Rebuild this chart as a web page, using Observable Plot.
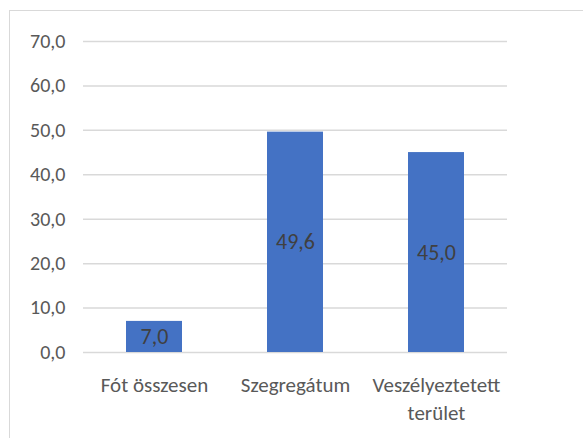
<!DOCTYPE html>
<html><head><meta charset="utf-8">
<script src="https://cdn.jsdelivr.net/npm/d3@7"></script>
<script src="https://cdn.jsdelivr.net/npm/@observablehq/plot@0.6"></script>
<style>
html,body{margin:0;padding:0;background:#fff;overflow:hidden;width:583px;height:438px;}
#wrap{position:relative;width:583px;height:438px;}
#border{position:absolute;left:9px;top:10px;width:620px;height:500px;border:1.5px solid #d9d9d9;box-sizing:border-box;}
#chart{position:absolute;left:0;top:0;}
</style></head>
<body><div id="wrap"><div id="border"></div><div id="chart"></div></div>
<script>
const categories = ["Fót összesen", "Szegregátum", "Veszélyeztetett terület"];
const tickLabels = ["Fót összesen", "Szegregátum", "Veszélyeztetett\nterület"];
const values = [7.0, 49.6, 45.0];
const yTicks = [0, 10, 20, 30, 40, 50, 60, 70];

const data = categories.map((c, i) => ({cat: c, v: values[i]}));
const fmt = d => d3.format(".1f")(d).replace(".", ",");
const font = "Calibri, Carlito, Lato, sans-serif";

const chart = Plot.plot({
  width: 583, height: 438,
  marginLeft: 83, marginRight: 76, marginTop: 41, marginBottom: 86,
  style: {fontFamily: font, background: "transparent"},
  x: {domain: categories, paddingInner: 0.6, paddingOuter: 0.3, label: null},
  y: {domain: [0, 70], label: null},
  marks: [
    Plot.gridY(yTicks, {stroke: "#d9d9d9", strokeOpacity: 1, strokeWidth: 1.5}),
    Plot.barY(data, {x: "cat", y: "v", fill: "#4472C4"}),
    Plot.text(data, {x: "cat", y: d => d.v / 2, text: d => fmt(d.v), fill: "#404040", fontSize: 22}),
    Plot.axisY(yTicks, {tickSize: 0, tickPadding: 18, tickFormat: fmt, fontSize: 20, fill: "#595959", label: null}),
    Plot.axisX({tickSize: 0, tickPadding: 20, tickFormat: (d) => tickLabels[categories.indexOf(d)], fontSize: 21, fill: "#595959", lineHeight: 1.33, label: null})
  ]
});
document.getElementById("chart").appendChild(chart);
</script></body></html>
